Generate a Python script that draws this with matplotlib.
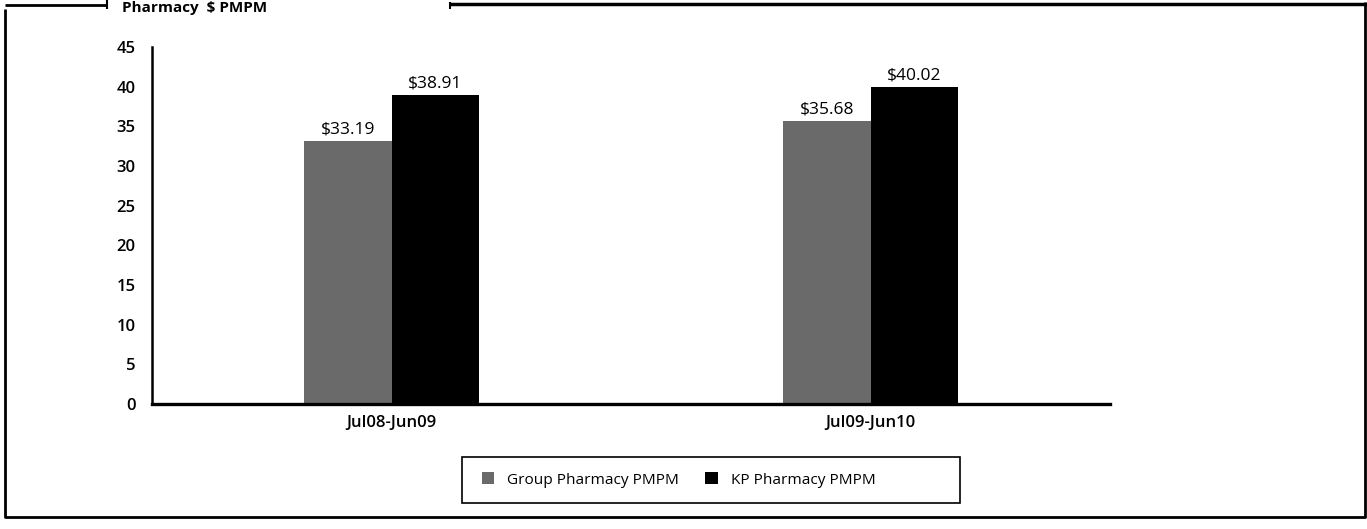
import matplotlib
matplotlib.use("Agg")
import matplotlib.pyplot as plt
from matplotlib.patches import Rectangle, Patch
from matplotlib.lines import Line2D
import numpy as np

categories = ["Jul08-Jun09", "Jul09-Jun10"]
series_names = ["Group Pharmacy PMPM", "KP Pharmacy PMPM"]
group_values = [33.19, 35.68]
kp_values = [38.91, 40.02]
yticks = [0, 5, 10, 15, 20, 25, 30, 35, 40, 45]
title = "Pharmacy  $ PMPM"

plt.rcParams['font.family'] = ['Open Sans', 'DejaVu Sans']

W, H = 1367, 529
fig = plt.figure(figsize=(W / 100, H / 100), dpi=100)
fig.patch.set_facecolor("white")

ax = fig.add_axes([152 / W, 1 - 404 / H, (1110 - 152) / W, (404 - 47) / H])
x = np.arange(len(categories))
bw = 0.182
gcol = "#6a6a6a"
b1 = ax.bar(x - bw / 2, group_values, bw, color=gcol, edgecolor="none")
b2 = ax.bar(x + bw / 2, kp_values, bw, color="black", edgecolor="none")

for bars, vals in ((b1, group_values), (b2, kp_values)):
    for r, v in zip(bars, vals):
        ax.annotate(f"${v:.2f}", (r.get_x() + r.get_width() / 2, v),
                    xytext=(0, 2.5), textcoords="offset points",
                    ha="center", va="bottom", fontsize=12.5)

ax.set_xlim(-0.5, 1.5)
ax.set_ylim(0, 45)
ax.set_yticks(yticks)
ax.set_yticklabels([str(t) for t in yticks], fontsize=12, fontweight="semibold")
ax.set_xticks(x)
ax.set_xticklabels(categories, fontsize=12, fontweight="semibold")
ax.tick_params(axis="y", length=0, pad=12)
ax.tick_params(axis="x", length=0, pad=8)
for s in ("top", "right"):
    ax.spines[s].set_visible(False)
ax.spines["left"].set_linewidth(1.8)
ax.spines["bottom"].set_linewidth(2.4)

# legend
handles = [Patch(facecolor=gcol, edgecolor="none"), Patch(facecolor="black", edgecolor="none")]
fig.add_artist(Rectangle((462 / W, 1 - 503 / H), (960 - 462) / W, (503 - 457) / H,
                         transform=fig.transFigure, facecolor="white",
                         edgecolor="black", linewidth=1.2))
leg = fig.legend(handles, series_names, loc="center left",
                 bbox_to_anchor=(468 / W, 1 - 480 / H), ncol=2, frameon=False,
                 fontsize=11.1, handlelength=0.8, handleheight=0.8,
                 handletextpad=0.85, columnspacing=1.7)

# outer frame
lw = 2.0
def fl(xs, ys, lw=lw):
    fig.add_artist(Line2D([v / W for v in xs], [1 - v / H for v in ys],
                          transform=fig.transFigure, color="black", linewidth=lw,
                          solid_capstyle="butt"))
fl([5, 5, 1365, 1365], [9, 517, 517, 2])
fl([5, 107], [5, 5])
fl([107, 107], [0, 9], lw=1.5)
fl([450, 1367], [4, 4], lw=2.5)
fl([450, 450], [2, 9], lw=1.5)

fig.text(122 / W, 1 - 1 / H, title, fontsize=11, fontweight="bold",
         ha="left", va="top")

fig.savefig("out.png", dpi=100)
